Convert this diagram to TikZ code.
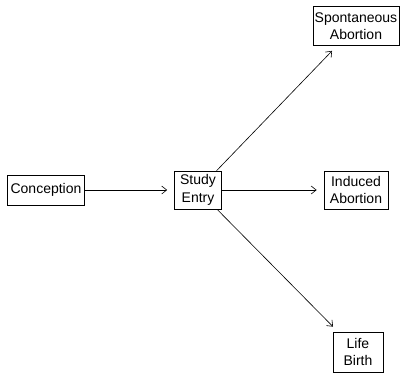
\documentclass[tikz,border=0pt]{standalone}
\usepackage{fontspec}
\setmainfont{Liberation Sans}
\usetikzlibrary{arrows.meta,positioning}

\begin{document}
\begin{tikzpicture}[x=1pt,y=1pt,node distance=158pt,
    font=\fontsize{14}{17.5}\selectfont]
      \useasboundingbox (0,0) rectangle (400,-373);
      \begin{scope}[every node/.style={rectangle,draw,line width=0.7pt,
          align=center,inner sep=2pt,minimum height=38pt}]
        \node (Conc) at (46,-190) [minimum width=77pt,minimum height=30pt] {Conception};
        \node (Entry) [right of= Conc,node distance=152pt,minimum width=47pt] {Study\\Entry};
        \node (Induced) [right of= Entry,minimum width=64pt] {Induced\\Abortion};
        \node (Spont) [above of= Induced,node distance=164pt,minimum width=86pt,minimum height=39pt,inner sep=1pt] {Spontaneous\\Abortion};
        \node (Birth) [below of= Induced,node distance=162pt,xshift=2pt,minimum width=50pt,minimum height=40pt] {Life\\Birth};
      \end{scope}
      \begin{scope}
        [every edge/.style={draw=black,line width=0.6pt,
          -{Straight Barb[length=5pt,width=8pt]},shorten >=7pt}]
        \path (Conc) edge (Entry);
        \path (Entry) edge (Spont);
        \path (Entry) edge (Induced);
        \path (Entry) edge (Birth);
      \end{scope}
    \end{tikzpicture}
\end{document}
